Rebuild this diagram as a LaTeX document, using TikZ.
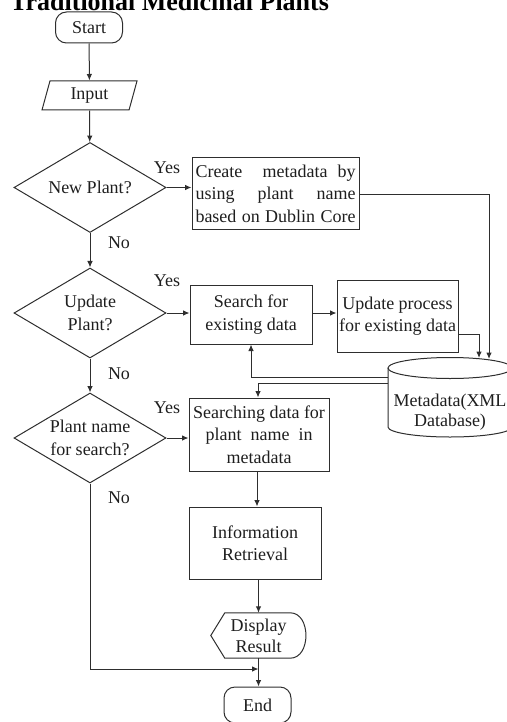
\documentclass[tikz,border=0pt]{standalone}
\usepackage{fontspec}
\setmainfont{Liberation Serif}
\usetikzlibrary{shapes.geometric,arrows.meta,calc}
\definecolor{ink}{HTML}{2E2E2E}
\definecolor{txt}{HTML}{1E1E1E}
\begin{document}
\begin{tikzpicture}[x=1pt,y=-1pt,
  base/.style={font=\fontsize{18}{22.5}\selectfont, text=txt},
  term/.style={base, draw=ink, line width=1pt, rounded corners=11pt, minimum width=67pt, minimum height=31pt, inner sep=0pt},
  proc/.style={base, draw=ink, line width=1pt, align=center, inner sep=0pt},
  dec/.style={base, draw=ink, line width=1pt, diamond, aspect=1.7, inner sep=0pt, minimum width=152pt, minimum height=90pt, align=center},
  io/.style={base, draw=ink, line width=1pt, trapezium, trapezium left angle=63, trapezium right angle=117, trapezium stretches body, minimum width=95pt, minimum height=29pt, inner sep=0pt},
  lbl/.style={base},
  ln/.style={draw=ink, line width=1pt},
  arr/.style={ln, -{Latex[length=6.5pt,width=5.5pt]}}
]
\useasboundingbox (0,0) rectangle (506,722);

% title (cut at top, as in the reference)
\node[anchor=base west, font=\bfseries\fontsize{26}{30}\selectfont, text=black, inner sep=0pt] (title) at (10,11) {Traditional Medicinal Plants};

% main column
\node[term] (start) at (89,27.5) {Start};
\node[io] (input) at (89.5,95.5) {Input};
\node[dec] (d1) at (90,187.5) {New Plant?};
\node[dec] (d2) at (90,313) {Update\\Plant?};
\node[dec] (d3) at (90,438) {Plant name\\for search?};

% process boxes
\node[proc, minimum width=167pt, minimum height=71pt] (b1) at (275.5,193.5)
  {\makebox[160pt][s]{Create\ \ metadata by}\\\makebox[160pt][s]{using plant name}\\\makebox[160pt][s]{based on Dublin Core}};
\node[proc, minimum width=122pt, minimum height=59pt] (b2) at (251,314.5) {Search for\\existing data};
\node[proc, minimum width=121pt, minimum height=72pt] (b3) at (397.5,316) {Update process\\for existing data};
\node[proc, minimum width=140pt, minimum height=73pt] (b4) at (259,434.5) {Searching data for\\plant\ \ name\ \ in\\metadata};
\node[proc, minimum width=132pt, minimum height=72pt] (b5) at (255,543) {Information\\Retrieval};

% display shape
\node[base, align=center, minimum width=95pt, minimum height=45pt, inner sep=0pt, font=\fontsize{18}{21}\selectfont] (disp) at (258.5,635.5) {Display\\Result};
\draw[ln] (disp.west) -- ($(disp.north west)+(14,0)$) -- ($(disp.north east)+(-16,0)$)
  .. controls ($(disp.north east)+(5,0)$) and ($(disp.south east)+(5,0)$) .. ($(disp.south east)+(-16,0)$)
  -- ($(disp.south west)+(14,0)$) -- cycle;

\node[term, minimum height=36pt] (end) at (257.5,705) {End};

% database cylinder
\coordinate (cyltl) at (388,368);
\coordinate (cyltr) at (512,368);
\draw[ln, fill=white] (cyltl) -- (388,427) arc[start angle=180, end angle=0, x radius=62, y radius=10] -- (cyltr);
\draw[ln] (450,368) ellipse [x radius=62, y radius=10.5];
\node[base, align=center, font=\fontsize{18}{20}\selectfont, inner sep=0pt] (db) at (450,412) {Metadata(XML\\Database)};
\coordinate (dbin1) at (479,358);
\coordinate (dbin2) at (489,359);
\coordinate (dbout1) at (388,377);
\coordinate (dbout2) at (388,383.5);

% labels
\node[lbl] (y1) at (167,168) {Yes};
\node[lbl] (n1) at (119,243) {No};
\node[lbl] (y2) at (167,281) {Yes};
\node[lbl] (n2) at (119,374) {No};
\node[lbl] (y3) at (167,408) {Yes};
\node[lbl] (n3) at (119,498) {No};

% connectors
\draw[arr] (start) -- (input);
\draw[arr] (input) -- (d1);
\draw[arr] (d1) -- (d2);
\draw[arr] (d2) -- (d3);
\draw[arr] (d1.east) -- (d1.east -| b1.west);
\draw[arr] (d2.east) -- (d2.east -| b2.west);
\draw[arr] (d3.east) -- (d3.east -| b4.west);
\draw[arr] (b2.east |- 0,313) -- (b3.west |- 0,313);
\draw[arr] (b1.east |- 0,194) -| (dbin2);
\draw[arr] (b3.east |- 0,334) -| (dbin1);
\draw[arr] (dbout1) -| (b2.south);
\draw[arr] (dbout2) -| (b4.north -| 258,0);
\draw[arr] (b4.south -| 257,0) -- (b5.north -| 257,0);
\draw[arr] (b5.south -| 258.5,0) -- (disp.north);
\coordinate (join) at (258.5,669);
\draw[arr] (disp.south) -- (end.north -| disp.south);
\draw[arr] (d3.south) |- (join);
\end{tikzpicture}
\end{document}
